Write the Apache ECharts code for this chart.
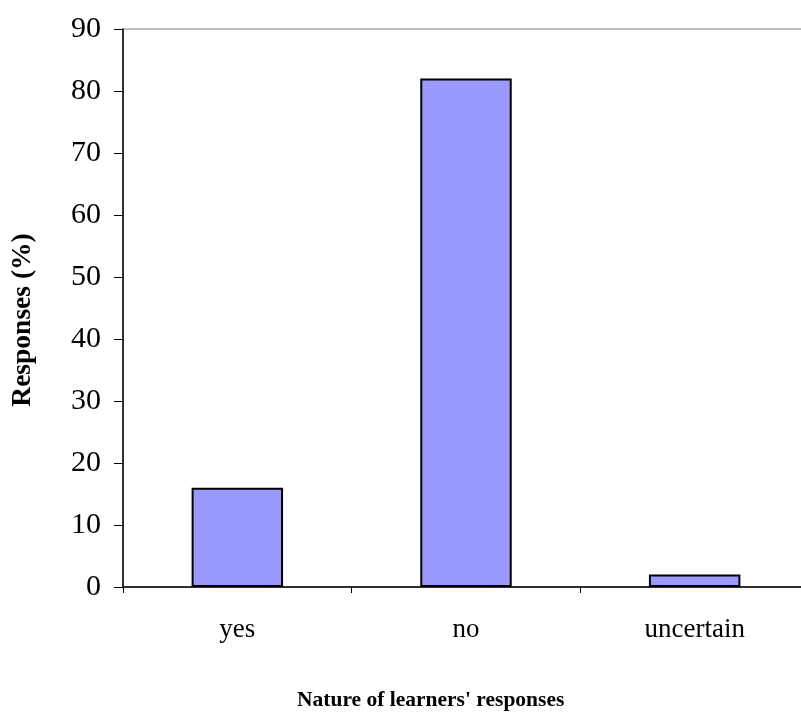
<!DOCTYPE html>
<html>
<head>
<meta charset="utf-8">
<script src="https://cdn.jsdelivr.net/npm/echarts@6/dist/echarts.min.js"></script>
<style>
  html, body { margin: 0; padding: 0; background: #ffffff; }
  #chart { width: 801px; height: 718px; }
</style>
</head>
<body>
<div id="chart"></div>
<script>
// Learners' responses, percentage per answer
const categories = ['yes', 'no', 'uncertain'];
const responses = [16, 82, 2];
const yTicks = { min: 0, max: 90, interval: 10 };
const xTitle = "Nature of learners' responses";
const yTitle = 'Responses (%)';

const serif = '"Liberation Serif", "Times New Roman", serif';

const chart = echarts.init(document.getElementById('chart'), null, { renderer: 'canvas' });

chart.setOption({
  animation: false,
  backgroundColor: '#ffffff',
  grid: {
    left: 123, top: 29, width: 686, height: 558,
    outerBoundsMode: 'none',
    containLabel: false,
    show: true, borderColor: '#808080', borderWidth: 1, backgroundColor: 'transparent'
  },
  xAxis: {
    type: 'category',
    data: categories,
    boundaryGap: true,
    axisLine: { lineStyle: { color: '#000000', width: 1.5 } },
    axisTick: { show: true, inside: false, length: 6, lineStyle: { color: '#000000', width: 1 } },
    axisLabel: { margin: 29, fontFamily: serif, fontSize: 27, color: '#000000' },
    splitLine: { show: false }
  },
  yAxis: {
    type: 'value',
    min: yTicks.min, max: yTicks.max, interval: yTicks.interval,
    axisLine: { show: true, lineStyle: { color: '#000000', width: 1.5 } },
    axisTick: { show: true, inside: false, length: 9, lineStyle: { color: '#000000', width: 1 } },
    axisLabel: { margin: 22, fontFamily: serif, fontSize: 30, color: '#000000' },
    splitLine: { show: false }
  },
  series: [{
    type: 'bar',
    data: responses,
    barWidth: '40%',
    itemStyle: { color: '#9999ff', borderColor: '#000000', borderWidth: 2 }
  }],
  graphic: [
    {
      type: 'text',
      left: 297, top: 689,
      style: { text: xTitle, fontFamily: serif, fontSize: 21.5, fontWeight: 'bold', fill: '#000000' }
    },
    {
      type: 'text',
      x: 23, y: 320,
      rotation: Math.PI / 2,
      style: {
        text: yTitle, fontFamily: serif, fontSize: 27.5, fontWeight: 'bold', fill: '#000000',
        align: 'center', verticalAlign: 'middle'
      }
    }
  ]
});
</script>
</body>
</html>
